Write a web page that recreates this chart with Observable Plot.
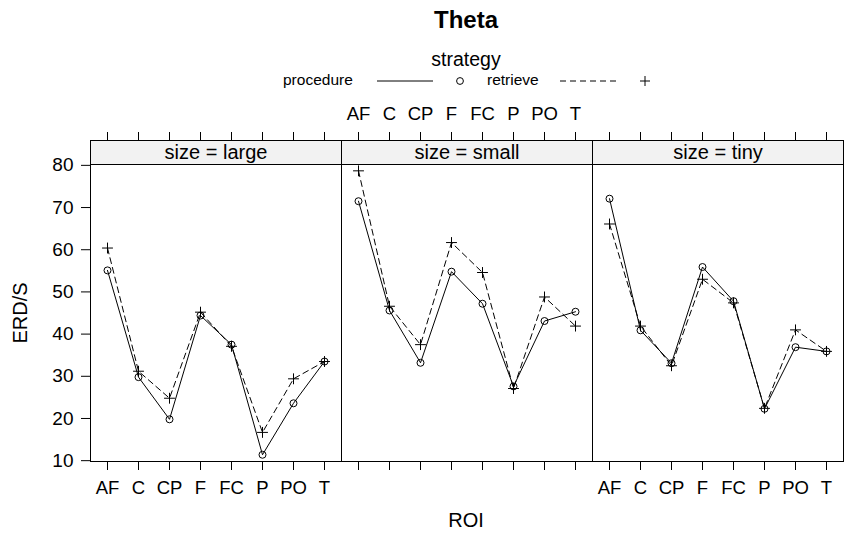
<!DOCTYPE html>
<html>
<head>
<meta charset="utf-8">
<script src="https://cdn.jsdelivr.net/npm/d3@7"></script>
<script src="https://cdn.jsdelivr.net/npm/@observablehq/plot@0.6"></script>
<style>
  body { margin: 0; background: #fff; }
  #wrap { position: relative; width: 844px; height: 533px; overflow: hidden; font-family: "Liberation Sans", Arial, sans-serif; }
  #overlay { position: absolute; left: 0; top: 0; pointer-events: none; }
</style>
</head>
<body>
<div id="wrap">
  <div id="chart"></div>
  <svg id="overlay" width="844" height="533" font-family="Liberation Sans, Arial, sans-serif">
    <text x="466" y="28" text-anchor="middle" font-weight="bold" font-size="24">Theta</text>
    <text x="466" y="66" text-anchor="middle" font-size="19.5">strategy</text>
    <text x="283" y="85" font-size="15.5">procedure</text>
    <line x1="377" x2="433" y1="81" y2="81" stroke="black" stroke-width="1"></line>
    <circle cx="460" cy="81" r="3.4" fill="none" stroke="black" stroke-width="1"></circle>
    <text x="487" y="85" font-size="15.5">retrieve</text>
    <line x1="560" x2="618" y1="81" y2="81" stroke="black" stroke-width="1" stroke-dasharray="6,4"></line>
    <path d="M640,81H650M645,76V86" stroke="black" stroke-width="1" fill="none"></path>
    <text x="466" y="527" text-anchor="middle" font-size="20">ROI</text>
    <text transform="translate(27,313) rotate(-90)" text-anchor="middle" font-size="20">ERD/S</text>
  </svg>
</div>
<script>
// ---- data ----
const rois = ["AF", "C", "CP", "F", "FC", "P", "PO", "T"];
const sizes = ["large", "small", "tiny"];
const strategies = ["procedure", "retrieve"];
const yTicks = [10, 20, 30, 40, 50, 60, 70, 80];

const procedureLarge = [55.1, 29.8, 19.8, 44.4, 37.5, 11.4, 23.6, 33.5];
const retrieveLarge  = [60.4, 31.2, 24.8, 45.2, 37.1, 16.7, 29.4, 33.5];
const procedureSmall = [71.5, 45.6, 33.2, 54.8, 47.2, 27.6, 43.1, 45.3];
const retrieveSmall  = [78.7, 46.6, 37.5, 61.7, 54.6, 27.1, 48.8, 41.9];
const procedureTiny  = [72.1, 40.9, 33.1, 55.9, 47.8, 22.3, 36.9, 35.9];
const retrieveTiny   = [66.1, 41.9, 32.5, 53.0, 47.4, 22.4, 41.0, 35.9];

const series = {
  large: { procedure: procedureLarge, retrieve: retrieveLarge },
  small: { procedure: procedureSmall, retrieve: retrieveSmall },
  tiny:  { procedure: procedureTiny,  retrieve: retrieveTiny }
};

const data = [];
for (const s of sizes) for (const st of strategies) rois.forEach((r, j) => {
  data.push({ size: s, strategy: st, roi: r, value: series[s][st][j] });
});
const proc = data.filter(d => d.strategy === "procedure");
const retr = data.filter(d => d.strategy === "retrieve");

const topLabels = rois.map(r => ({ size: "small", roi: r }));
const bottomLabels = ["large", "tiny"].flatMap(s => rois.map(r => ({ size: s, roi: r })));

const H = 533, MT = 140, MB = 72, STRIP = 24;
const frameH = H - MT - MB;
const font = "Liberation Sans, Arial, sans-serif";

const chart = Plot.plot({
  width: 844,
  height: H,
  marginTop: MT,
  marginBottom: MB,
  marginLeft: 90,
  marginRight: 1,
  style: { fontFamily: font, fontSize: "18.5px", color: "black", background: "white" },
  fx: { domain: sizes, padding: 0, axis: null },
  x: { type: "point", domain: rois, padding: 0.48 },
  y: { domain: [9.8, 80.2], insetTop: STRIP },
  marks: [
    Plot.frame({ fill: "#f2f2f2", stroke: "black", insetBottom: frameH - STRIP }),
    Plot.text(sizes, { fx: d => d, text: d => `size = ${d}`, frameAnchor: "top", lineAnchor: "middle", dy: 12, fontSize: 20 }),
    Plot.frame({ stroke: "black" }),
    Plot.axisY({ ticks: yTicks, tickSize: 9, tickPadding: 8, label: null, fontSize: 19 }),
    Plot.axisX({ anchor: "top", tickSize: 9, tickFormat: () => "", label: null }),
    Plot.axisX({ anchor: "bottom", tickSize: 9, tickFormat: () => "", label: null }),
    Plot.text(topLabels, { fx: "size", x: "roi", text: "roi", frameAnchor: "top", lineAnchor: "middle", dy: -26, fontSize: 18.5 }),
    Plot.text(bottomLabels, { fx: "size", x: "roi", text: "roi", frameAnchor: "bottom", lineAnchor: "middle", dy: 27, fontSize: 18.5 }),
    Plot.line(proc, { fx: "size", x: "roi", y: "value", stroke: "black", strokeWidth: 1 }),
    Plot.line(retr, { fx: "size", x: "roi", y: "value", stroke: "black", strokeWidth: 1, strokeDasharray: "6,4" }),
    Plot.dot(proc, { fx: "size", x: "roi", y: "value", r: 3.5, stroke: "black", fill: "none", strokeWidth: 1 }),
    Plot.dot(retr, { fx: "size", x: "roi", y: "value", symbol: "plus", r: 3.6, stroke: "black", strokeWidth: 1 })
  ]
});
document.getElementById("chart").appendChild(chart);
</script>
</body>
</html>
